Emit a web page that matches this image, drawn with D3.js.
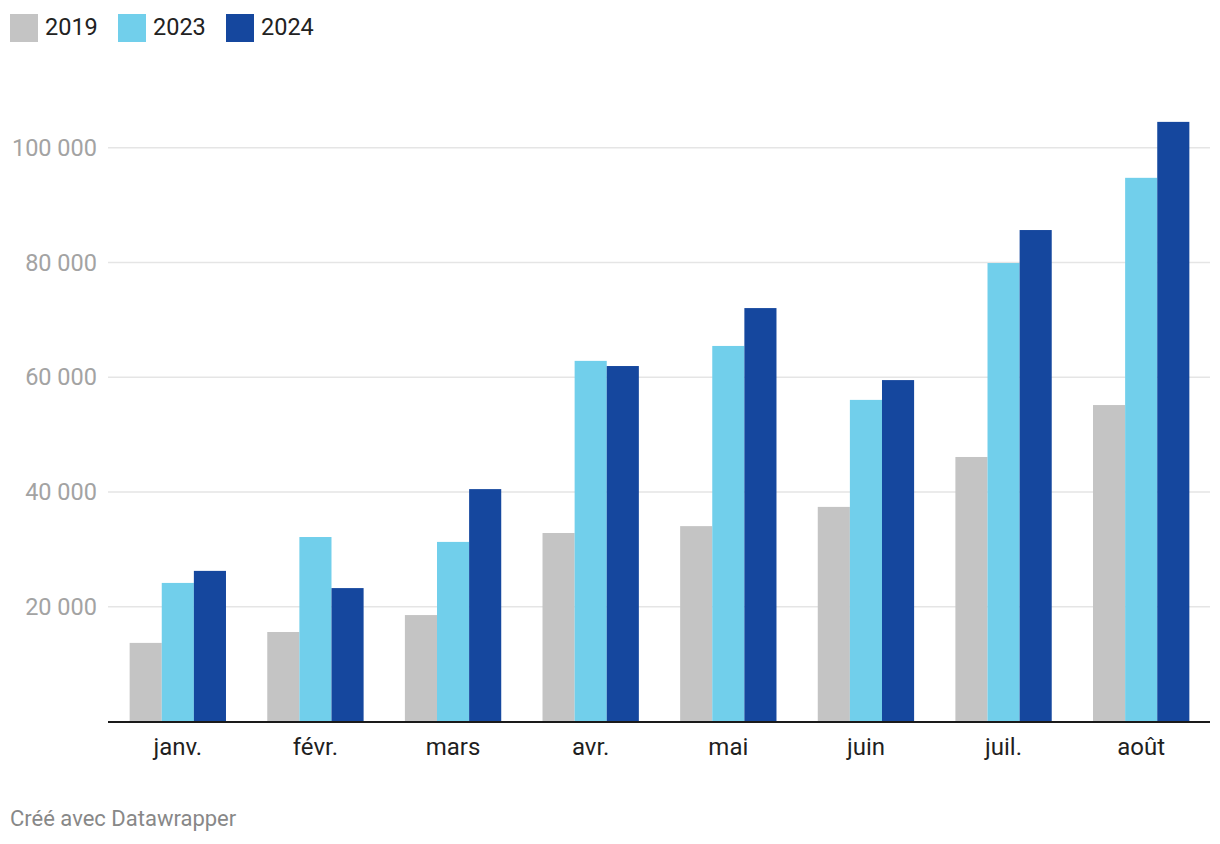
<!DOCTYPE html>
<html>
<head>
<meta charset="utf-8">
<script src="https://cdn.jsdelivr.net/npm/d3@7"></script>
<style>
  body { margin: 0; background: #fff; font-family: Roboto, "Noto Sans", sans-serif; }
  svg text { font-family: Roboto, "Noto Sans", sans-serif; }
</style>
</head>
<body>
<svg id="chart" width="1220" height="844"></svg>
<script>
// données
const months = ["janv.", "févr.", "mars", "avr.", "mai", "juin", "juil.", "août"];
const years = ["2019", "2023", "2024"];
const values2019 = [13700, 15600, 18550, 32850, 34050, 37400, 46100, 55150];
const values2023 = [24150, 32150, 31300, 62850, 65450, 56050, 79900, 94750];
const values2024 = [26250, 23250, 40500, 61950, 72050, 59500, 85650, 104500];
const yTicks = [20000, 40000, 60000, 80000, 100000];
const colors = ["#c4c4c4", "#71cfeb", "#15479e"];

const series = [values2019, values2023, values2024];
const rows = months.map((m, i) => ({ month: m, vals: years.map((y, j) => ({ year: y, value: series[j][i] })) }));

const svg = d3.select("#chart");
const margin = { left: 108 };
const plotRight = 1210;
const baseline = 721.5;

const x = d3.scaleBand().domain(months).range([margin.left + 1, plotRight]).paddingInner(0.3).paddingOuter(0.15);
const x1 = d3.scaleBand().domain(years).range([0, x.bandwidth()]);
const y = d3.scaleLinear().domain([0, 100000]).range([baseline, 147.7]);
const color = d3.scaleOrdinal().domain(years).range(colors);

// legende
const legend = svg.append("g");
const legendX = [10, 118, 226];
years.forEach((yr, i) => {
  legend.append("rect").attr("x", legendX[i]).attr("y", 14).attr("width", 28).attr("height", 28).attr("fill", color(yr));
  legend.append("text").attr("x", legendX[i] + 35).attr("y", 35).attr("font-size", 23.5).attr("fill", "#222").text(yr);
});

// grille + ticks
const grid = svg.append("g");
grid.selectAll("line").data(yTicks).enter().append("line")
  .attr("x1", margin.left).attr("x2", plotRight)
  .attr("y1", d => y(d)).attr("y2", d => y(d))
  .attr("stroke", "#e5e5e5").attr("stroke-width", 1.5);
grid.selectAll("text").data(yTicks).enter().append("text")
  .attr("x", 97).attr("y", d => y(d)).attr("dy", "0.35em")
  .attr("text-anchor", "end").attr("font-size", 23.5).attr("fill", "#a3a3a3")
  .text(d => d3.format(",")(d).replace(/,/g, " "));

// barres
const groups = svg.append("g").selectAll("g").data(rows).enter().append("g")
  .attr("transform", d => `translate(${x(d.month)},0)`);
groups.selectAll("rect").data(d => d.vals).enter().append("rect")
  .attr("x", d => x1(d.year)).attr("width", x1.bandwidth())
  .attr("y", d => y(d.value)).attr("height", d => baseline - y(d.value))
  .attr("fill", d => color(d.year));

// axe x
svg.append("line").attr("x1", margin.left).attr("x2", plotRight)
  .attr("y1", baseline + 0.5).attr("y2", baseline + 0.5)
  .attr("stroke", "#1a1a1a").attr("stroke-width", 2);
svg.append("g").selectAll("text").data(months).enter().append("text")
  .attr("x", d => x(d) + x.bandwidth() / 2).attr("y", 755)
  .attr("text-anchor", "middle").attr("font-size", 24).attr("fill", "#1f1f1f")
  .text(d => d);

// credit
svg.append("text").attr("x", 10).attr("y", 826).attr("font-size", 22).attr("fill", "#888")
  .text("Créé avec Datawrapper");
</script>
</body>
</html>
